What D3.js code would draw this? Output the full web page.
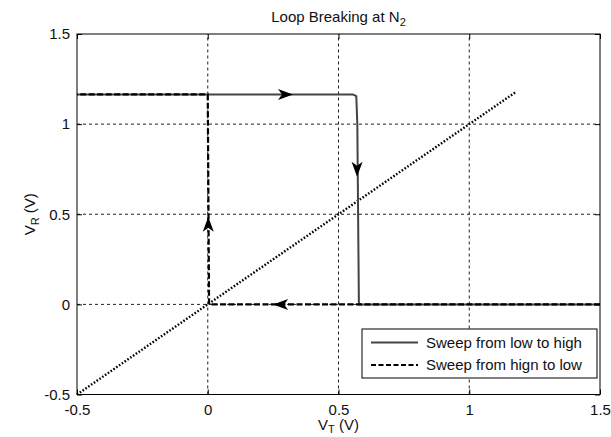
<!DOCTYPE html>
<html>
<head>
<meta charset="utf-8">
<script src="https://cdn.jsdelivr.net/npm/d3@7"></script>
<style>
  body { margin: 0; background: #fff; }
  text { font-family: "Liberation Sans", Arial, sans-serif; fill: #111; }
</style>
</head>
<body>
<div id="vis"></div>
<script>
var w = 611, h = 437; // size of the svg
var margin = {top: 34, right: 11, bottom: 42.5, left: 77};

// tick values on both axes
var xTicks = [-0.5, 0, 0.5, 1, 1.5];
var yTicks = [-0.5, 0, 0.5, 1, 1.5];

// sweep from low to high (solid)
var lowHighX = [-0.5, 0.555, 0.568, 0.572, 0.578, 1.5];
var lowHighY = [1.165, 1.165, 1.155, 1.0, 0, 0];

// sweep from high to low (dashed)
var highLowX = [1.5, 0.005, 0.0, -0.5];
var highLowY = [0, 0, 1.165, 1.165];

// reference line V_R = V_T (dotted)
var refX = [-0.5, 1.18];
var refY = [-0.5, 1.18];

// arrow heads along the loop
var arrowX = [0.326, 0.571, 0.25, 0.002];
var arrowY = [1.165, 0.708, 0, 0.486];
var arrowDir = ["right", "down", "left", "up"];

var legendNames = ["Sweep from low to high", "Sweep from hign to low"];

var x = d3.scaleLinear().domain([-0.5, 1.5]).range([margin.left, w - margin.right]);
var y = d3.scaleLinear().domain([-0.5, 1.5]).range([h - margin.bottom, margin.top]);

var svg = d3.select("#vis").append("svg")
    .attr("width", w)
    .attr("height", h);

//grid lines
svg.append("g").selectAll("line")
    .data(xTicks.slice(1, -1))
    .enter().append("line")
    .attr("x1", function(d){ return x(d); })
    .attr("x2", function(d){ return x(d); })
    .attr("y1", y(-0.5)).attr("y2", y(1.5))
    .attr("stroke", "#222").attr("stroke-width", 1)
    .attr("stroke-dasharray", "3,3");

svg.append("g").selectAll("line")
    .data(yTicks.slice(1, -1))
    .enter().append("line")
    .attr("y1", function(d){ return y(d); })
    .attr("y2", function(d){ return y(d); })
    .attr("x1", x(-0.5)).attr("x2", x(1.5))
    .attr("stroke", "#222").attr("stroke-width", 1)
    .attr("stroke-dasharray", "3,3");

//axes with inward ticks, plain hyphen for negative labels
var xAxisB = d3.axisBottom(x).tickValues(xTicks).tickSize(-5).tickPadding(10)
    .tickFormat(function(d){ return String(d); });
var xAxisT = d3.axisTop(x).tickValues(xTicks).tickSize(-5).tickFormat("");
var yAxisL = d3.axisLeft(y).tickValues(yTicks).tickSize(-5).tickPadding(7)
    .tickFormat(function(d){ return String(d); });
var yAxisR = d3.axisRight(y).tickValues(yTicks).tickSize(-5).tickFormat("");

function styleAxis(g){
  g.select(".domain").remove();
  g.selectAll("line").attr("stroke", "#000");
  g.selectAll("text").attr("font-size", 15).attr("fill", "#111")
   .attr("font-family", "Liberation Sans, Arial, sans-serif");
}

svg.append("g").attr("transform", "translate(0," + y(-0.5) + ")").call(xAxisB).call(styleAxis);
svg.append("g").attr("transform", "translate(0," + y(1.5) + ")").call(xAxisT).call(styleAxis);
svg.append("g").attr("transform", "translate(" + x(-0.5) + ",0)").call(yAxisL).call(styleAxis);
svg.append("g").attr("transform", "translate(" + x(1.5) + ",0)").call(yAxisR).call(styleAxis);

var line = d3.line()
    .x(function(d){ return x(d[0]); })
    .y(function(d){ return y(d[1]); });

//reference line
svg.append("path")
    .datum(d3.zip(refX, refY))
    .attr("d", line)
    .attr("fill", "none")
    .attr("stroke", "#000")
    .attr("stroke-width", 2.4)
    .attr("stroke-dasharray", "1.6,1.8");

//sweep low to high
svg.append("path")
    .datum(d3.zip(lowHighX, lowHighY))
    .attr("d", line)
    .attr("fill", "none")
    .attr("stroke", "#444")
    .attr("stroke-width", 2);

//sweep high to low
svg.append("path")
    .datum(d3.zip(highLowX, highLowY))
    .attr("d", line)
    .attr("fill", "none")
    .attr("stroke", "#000")
    .attr("stroke-width", 2.2)
    .attr("stroke-dasharray", "6,2.5");

//arrow heads (tip at origin, pointing right)
var rot = {right: 0, down: 90, left: 180, up: -90};
svg.append("g").selectAll("path")
    .data(d3.range(arrowX.length))
    .enter().append("path")
    .attr("d", "M0,0 L-15,-5.5 L-11,0 L-15,5.5 Z")
    .attr("transform", function(i){
        return "translate(" + x(arrowX[i]) + "," + y(arrowY[i]) + ") rotate(" + rot[arrowDir[i]] + ")";
    })
    .attr("fill", "#000");

//box round the plot
svg.append("rect")
    .attr("x", x(-0.5)).attr("y", y(1.5))
    .attr("width", x(1.5) - x(-0.5))
    .attr("height", y(-0.5) - y(1.5))
    .attr("fill", "none")
    .attr("stroke", "#000")
    .attr("stroke-width", 1);

//title
var title = svg.append("text")
    .attr("x", (x(-0.5) + x(1.5)) / 2)
    .attr("y", 22)
    .attr("text-anchor", "middle")
    .attr("font-size", 15);
title.append("tspan").text("Loop Breaking at N");
title.append("tspan").attr("dy", 4).attr("font-size", 11).text("2");

//x label
var xl = svg.append("text")
    .attr("x", (x(-0.5) + x(1.5)) / 2)
    .attr("y", 430)
    .attr("text-anchor", "middle")
    .attr("font-size", 15);
xl.append("tspan").text("V");
xl.append("tspan").attr("dy", 3).attr("font-size", 11).text("T");
xl.append("tspan").attr("dy", -3).text(" (V)");

//y label
var yl = svg.append("text")
    .attr("transform", "translate(35," + (y(-0.5) + y(1.5)) / 2 + ") rotate(-90)")
    .attr("text-anchor", "middle")
    .attr("font-size", 15);
yl.append("tspan").text("V");
yl.append("tspan").attr("dy", 4).attr("font-size", 11).text("R");
yl.append("tspan").attr("dy", -4).text(" (V)");

//legend
var legend = svg.append("g").attr("transform", "translate(362,329)");
legend.append("rect")
    .attr("width", 235).attr("height", 49)
    .attr("fill", "#fff").attr("stroke", "#000").attr("stroke-width", 1);

var legendStyle = [{stroke: "#444", dash: null, width: 2}, {stroke: "#000", dash: "5,2.5", width: 2.2}];
legend.selectAll("line")
    .data(legendNames)
    .enter().append("line")
    .attr("x1", 9).attr("x2", 56)
    .attr("y1", function(d, i){ return 13.5 + i * 22.5; })
    .attr("y2", function(d, i){ return 13.5 + i * 22.5; })
    .attr("stroke", function(d, i){ return legendStyle[i].stroke; })
    .attr("stroke-width", function(d, i){ return legendStyle[i].width; })
    .attr("stroke-dasharray", function(d, i){ return legendStyle[i].dash; });

legend.selectAll("text")
    .data(legendNames)
    .enter().append("text")
    .attr("x", 64)
    .attr("y", function(d, i){ return 18.5 + i * 22.5; })
    .attr("font-size", 15)
    .text(function(d){ return d; });
</script>
</body>
</html>
